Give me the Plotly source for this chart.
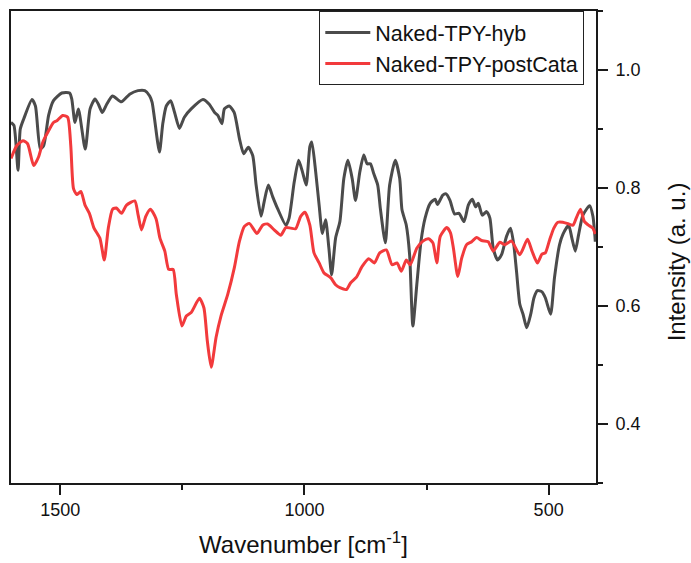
import plotly.graph_objects as go

# Wavenumbers (cm^-1) and intensities
hyb_wn = [1601, 1595, 1586.6, 1582, 1575, 1558, 1551, 1541, 1534, 1524, 1514, 1497, 1481, 1476.6,
          1470, 1463, 1449, 1439, 1429, 1422, 1414, 1405, 1393, 1375, 1358, 1341, 1327, 1317, 1312,
          1307, 1297, 1290, 1283, 1274, 1266, 1256, 1246, 1232, 1208, 1195, 1184, 1177.5, 1169, 1164,
          1154, 1144, 1133, 1124.5, 1115, 1106, 1099, 1089, 1082.5, 1074, 1065, 1055, 1038, 1031.5,
          1021, 1012, 1004, 996.5, 989, 985, 977, 970, 963.4, 956.7, 950, 944.4, 936.3, 927.5, 919.4,
          911, 902.3, 895.5, 886.7, 878.6, 871.7, 865, 858, 850, 844.6, 834.4, 825.6, 814, 805, 800.3,
          791.5, 784.7, 778, 770, 761.5, 753, 742.6, 732.4, 727.7, 716.7, 710, 702, 692.7, 683.5,
          673.3, 664.5, 656.4, 649.4, 644, 636, 627, 620.3, 613.5, 604.6, 596.4, 586.2, 578, 571.4,
          565.8, 559, 552.4, 544.9, 536.7, 530, 523, 513.7, 506.8, 496, 488, 477.6, 471, 459, 452.4,
          445.4, 438.6, 429.8, 416, 409.3, 404.4]
hyb_int = [0.911, 0.906, 0.830, 0.900, 0.917, 0.950, 0.939, 0.866, 0.872, 0.923, 0.948, 0.961, 0.961, 0.951,
           0.911, 0.934, 0.866, 0.934, 0.951, 0.942, 0.928, 0.942, 0.956, 0.946, 0.959, 0.965, 0.965, 0.956, 0.945,
           0.917, 0.861, 0.910, 0.939, 0.948, 0.928, 0.901, 0.920, 0.934, 0.950, 0.942, 0.928, 0.923, 0.909, 0.934,
           0.939, 0.928, 0.883, 0.858, 0.869, 0.855, 0.805, 0.752, 0.777, 0.805, 0.785, 0.765, 0.737, 0.749,
           0.810, 0.847, 0.827, 0.805, 0.870, 0.878, 0.827, 0.771, 0.723, 0.746, 0.698, 0.653, 0.715, 0.743, 0.816,
           0.847, 0.816, 0.779, 0.827, 0.856, 0.841, 0.841, 0.824, 0.805, 0.765, 0.707, 0.805, 0.847, 0.816, 0.763,
           0.737, 0.687, 0.566, 0.636, 0.709, 0.749, 0.774, 0.781, 0.772, 0.788, 0.790, 0.779, 0.756, 0.757,
           0.743, 0.771, 0.781, 0.768, 0.774, 0.754, 0.760, 0.749, 0.698, 0.678, 0.687, 0.718, 0.732, 0.704,
           0.659, 0.603, 0.586, 0.563, 0.586, 0.614, 0.626, 0.624, 0.614, 0.586, 0.648, 0.704, 0.721, 0.737, 0.715,
           0.693, 0.721, 0.754, 0.770, 0.752, 0.709]

post_wn = [1601, 1589, 1576.5, 1567, 1554.6, 1544.4, 1535.7, 1524, 1514, 1507, 1495, 1485, 1478.6, 1473,
           1466.4, 1458, 1449.4, 1440.5, 1431, 1419, 1410, 1401.7, 1393, 1385, 1374.6, 1364.4, 1347.5,
           1340.6, 1333.8, 1325, 1315.5, 1304, 1296, 1286, 1278, 1269, 1262.5, 1251, 1242, 1232, 1215,
           1206, 1199, 1191, 1181, 1171, 1157, 1143.6, 1133.4, 1123, 1113, 1097.3, 1085.7, 1075.5, 1062,
           1048.4, 1038.2, 1028, 1018, 1007.7, 999, 989, 980.5, 970, 960, 946.5, 936.3, 927.5, 914, 905.7,
           893.5, 881.9, 868.3, 856.8, 846, 832.3, 820.7, 810.5, 801.7, 791.5, 783.4, 770, 757.5, 746, 737,
           729, 722, 708.6, 701, 695, 686, 678, 668, 657.6, 647.4, 637.3, 623.8, 613.5, 600, 590, 576, 559,
           543.3, 534, 523, 513.7, 506.8, 498, 489.3, 481, 471, 459, 450, 443.5, 434.8, 426.6, 418.4, 409.6,
           404.6]
post_int = [0.850, 0.872, 0.880, 0.875, 0.838, 0.853, 0.878, 0.897, 0.911, 0.914, 0.923, 0.920, 0.872, 0.799,
            0.789, 0.794, 0.771, 0.757, 0.732, 0.715, 0.678, 0.732, 0.764, 0.766, 0.757, 0.771, 0.778,
            0.754, 0.729, 0.752, 0.764, 0.748, 0.715, 0.693, 0.662, 0.662, 0.620, 0.566, 0.583, 0.589, 0.613,
            0.597, 0.541, 0.496, 0.547, 0.583, 0.620, 0.665, 0.709, 0.735, 0.740, 0.723, 0.737, 0.739, 0.729,
            0.720, 0.733, 0.732, 0.731, 0.752, 0.759, 0.737, 0.690, 0.673, 0.656, 0.648, 0.636, 0.631, 0.628, 0.639,
            0.649, 0.667, 0.680, 0.673, 0.690, 0.695, 0.670, 0.673, 0.659, 0.678, 0.670, 0.698, 0.710, 0.714, 0.707,
            0.673, 0.718, 0.733, 0.724, 0.698, 0.650, 0.681, 0.704, 0.709, 0.716, 0.711, 0.709, 0.693, 0.708, 0.704, 0.710, 0.687,
            0.713, 0.693, 0.673, 0.688, 0.690, 0.712, 0.732, 0.742, 0.742, 0.739, 0.737, 0.749, 0.764, 0.743, 0.737, 0.732,
            0.722]

series_names = ["Naked-TPY-hyb", "Naked-TPY-postCata"]
series_colors = ["#4b4b4b", "#f23a3c"]

x_ticks = [1500, 1000, 500]
y_ticks = [0.4, 0.6, 0.8, 1.0]

FONT = "Liberation Sans, Arial, sans-serif"

fig = go.Figure()
for wn, inten, name, col in [(hyb_wn, hyb_int, series_names[0], series_colors[0]),
                             (post_wn, post_int, series_names[1], series_colors[1])]:
    fig.add_trace(go.Scatter(x=wn, y=inten, mode="lines", name=name,
                             line=dict(color=col, width=3, shape="spline", smoothing=0.6)))

axis_common = dict(showline=True, linecolor="#1a1a1a", linewidth=1.6, mirror=True,
                   showgrid=False, zeroline=False, ticks="outside", tickcolor="#1a1a1a",
                   tickwidth=1.6, tickfont=dict(family=FONT, size=18, color="#111"))

fig.update_layout(
    width=691, height=563,
    margin=dict(l=9, r=95, t=10, b=78),
    paper_bgcolor="white", plot_bgcolor="white",
    font=dict(family=FONT, color="#111"),
    xaxis=dict(range=[1601, 403], tickvals=x_ticks, ticklen=10,
               minor=dict(ticks="outside", dtick=250, tick0=0, ticklen=5, tickcolor="#1a1a1a", tickwidth=1.6),
               title=dict(text="Wavenumber [cm<sup>-1</sup>]", font=dict(family=FONT, size=24), standoff=17),
               **axis_common),
    yaxis=dict(range=[0.3, 1.1], side="right", tickvals=y_ticks, tickformat=".1f", ticklen=10,
               ticklabelstandoff=4,
               minor=dict(ticks="outside", dtick=0.1, tick0=0, ticklen=5, tickcolor="#1a1a1a", tickwidth=1.6),
               **axis_common),
    legend=dict(x=0.98, y=1.0, xanchor="right", yanchor="top", itemwidth=45,
                bgcolor="white", bordercolor="#222", borderwidth=1,
                font=dict(family=FONT, size=21.5, color="#111"), tracegroupgap=0),
    showlegend=True,
    annotations=[dict(text="Intensity (a. u.)", textangle=-90, xref="paper", yref="paper",
                      x=1.138, y=0.469, xanchor="center", yanchor="middle", showarrow=False,
                      font=dict(family=FONT, size=24, color="#111"))],
)

fig.write_html("out.html")
